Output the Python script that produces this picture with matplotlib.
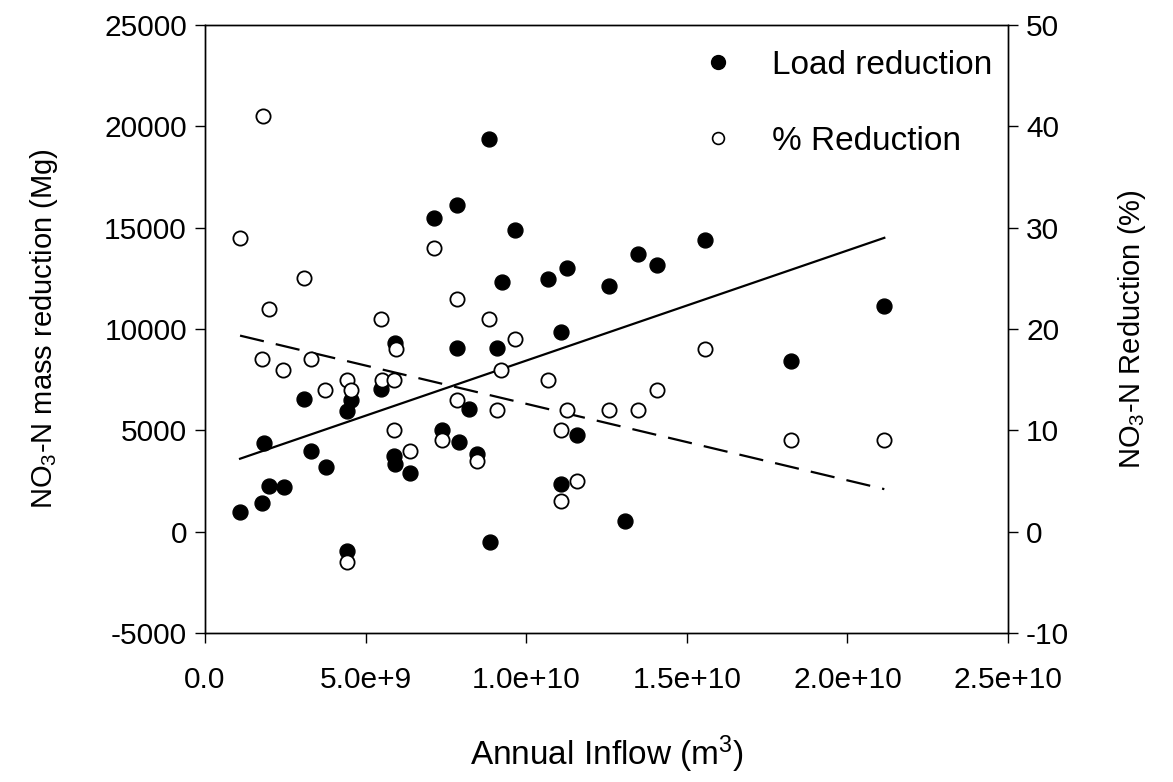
import matplotlib

matplotlib.use("Agg")
import matplotlib.pyplot as plt
from matplotlib.lines import Line2D

# ── Data ──────────────────────────────────────────────────────────────────────

# Load reduction (Mg), filled circles, left axis
LOAD_X = [1.09e9, 1.76e9, 1.83e9, 1.99e9, 2.45e9, 3.08e9, 3.31e9, 3.76e9,
          4.42e9, 4.43e9, 4.55e9, 5.49e9, 5.88e9, 5.91e9, 5.93e9, 6.39e9,
          7.13e9, 7.37e9, 7.83e9, 7.83e9, 7.92e9, 8.23e9, 8.48e9, 8.83e9,
          8.87e9, 9.09e9, 9.24e9, 9.66e9, 10.68e9, 11.08e9, 11.08e9, 11.28e9,
          11.57e9, 12.57e9, 13.07e9, 13.47e9, 14.07e9, 15.56e9, 18.24e9, 21.15e9]
LOAD_Y = [950, 1400, 4400, 2250, 2200, 6550, 4000, 3200,
          5950, -950, 6500, 7050, 3750, 3350, 9300, 2900,
          15500, 5000, 16100, 9050, 4450, 6050, 3850, 19400,
          -500, 9050, 12300, 14900, 12450, 9850, 2350, 13000,
          4750, 12100, 550, 13700, 13150, 14400, 8400, 11150]

# % reduction, open circles, right axis
PCT_X = [1.09e9, 1.81e9, 1.76e9, 1.99e9, 2.43e9, 3.08e9, 3.29e9, 3.75e9,
         4.42e9, 4.55e9, 4.42e9, 5.47e9, 5.51e9, 5.88e9, 5.96e9, 5.88e9,
         6.39e9, 7.13e9, 7.37e9, 7.83e9, 7.83e9, 8.48e9, 8.83e9, 9.09e9,
         9.23e9, 9.66e9, 10.68e9, 11.08e9, 11.08e9, 11.28e9, 11.57e9, 12.57e9,
         13.47e9, 14.07e9, 15.56e9, 18.24e9, 21.15e9]
PCT_Y = [29, 41, 17, 22, 16, 25, 17, 14,
         15, 14, -3, 21, 15, 15, 18, 10,
         8, 28, 9, 23, 13, 7, 21, 12,
         16, 19, 15, 10, 3, 12, 5, 12,
         12, 14, 18, 9, 9]

# Regression line end points
FIT_X = [1.09e9, 21.15e9]
LOAD_FIT = [3600, 14500]
PCT_FIT = [19.35, 4.2]

X_TICKS = [0, 5e9, 1e10, 1.5e10, 2e10, 2.5e10]
X_TICKLABELS = ["0.0", "5.0e+9", "1.0e+10", "1.5e+10", "2.0e+10", "2.5e+10"]
LEFT_TICKS = [-5000, 0, 5000, 10000, 15000, 20000, 25000]
RIGHT_TICKS = [-10, 0, 10, 20, 30, 40, 50]

# ── Style ─────────────────────────────────────────────────────────────────────

plt.rcParams["font.family"] = ["Liberation Sans", "DejaVu Sans"]
plt.rcParams["mathtext.default"] = "regular"
plt.rcParams["axes.unicode_minus"] = False
TICK_FS = 21.5
LABEL_FS = 21
XLABEL_FS = 24
LEGEND_FS = 24

fig = plt.figure(figsize=(11.73, 7.82), dpi=100)
ax = fig.add_axes([0.1748, 0.1905, 0.8593 - 0.1748, 0.968 - 0.1905])
ax2 = ax.twinx()

ax.scatter(LOAD_X, LOAD_Y, s=115, color="black", zorder=3)
ax.plot(FIT_X, LOAD_FIT, color="black", lw=1.6, zorder=2)

ax2.scatter(PCT_X, PCT_Y, s=105, facecolor="white", edgecolor="black",
            linewidth=1.3, zorder=3)
ax2.plot(FIT_X, PCT_FIT, color="black", lw=1.6, linestyle=(0, (11, 5.5)),
         zorder=2)

ax.set_xlim(0, 2.5e10)
ax.set_ylim(-5000, 25000)
ax2.set_ylim(-10, 50)
ax.set_xticks(X_TICKS)
ax.set_xticklabels(X_TICKLABELS)
ax.set_yticks(LEFT_TICKS)
ax2.set_yticks(RIGHT_TICKS)

for a in (ax, ax2):
    a.tick_params(direction="out", length=7, width=1, labelsize=TICK_FS, pad=6)
    for sp in a.spines.values():
        sp.set_linewidth(1.0)
ax.tick_params(axis="x", pad=17)
ax.tick_params(axis="y", which="both", right=False)

ax.set_xlabel("Annual Inflow (m$^3$)", fontsize=XLABEL_FS, labelpad=28)
ax.set_ylabel("NO$_3$-N mass reduction (Mg)", fontsize=LABEL_FS, labelpad=32)
ax2.set_ylabel("NO$_3$-N Reduction (%)", fontsize=LABEL_FS, labelpad=34)

handles = [
    Line2D([], [], marker="o", linestyle="none", markersize=10,
           markerfacecolor="black", markeredgecolor="black"),
    Line2D([], [], marker="o", linestyle="none", markersize=8.5,
           markerfacecolor="white", markeredgecolor="black", markeredgewidth=1.2),
]
ax.legend(handles, ["Load reduction", "% Reduction"], loc="upper right",
          bbox_to_anchor=(1.011, 1.0), frameon=False, fontsize=LEGEND_FS,
          labelspacing=1.35, handletextpad=0.62, borderaxespad=0.35)

fig.savefig("out.png", dpi=100)
